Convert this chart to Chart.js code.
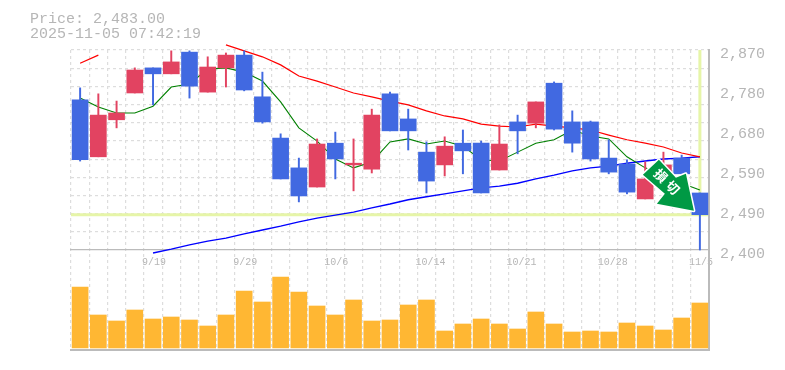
<!DOCTYPE html>
<html>
<head>
<meta charset="utf-8">
<style>html,body{margin:0;padding:0;background:#fff}canvas{display:block}</style>
<script src="https://cdn.jsdelivr.net/npm/chart.js@4/dist/chart.umd.min.js"></script>
</head>
<body>
<canvas id="c" width="785" height="370"></canvas>
<script>
const dates = ['','','','','9/19','','','','','9/29','','','','','10/6','','','','','10/14','','','','','10/21','','','','','10/28','','','','','11/5'];
const open  = [2753,2619,2706,2769,2828,2814,2865,2771,2828,2858,2760,2663,2593,2548,2651,2600,2590,2767,2708,2630,2600,2651,2651,2588,2701,2698,2792,2701,2701,2616,2602,2520,2565,2616,2534];
const high  = [2781,2767,2750,2828,2828,2868,2868,2854,2863,2868,2818,2673,2616,2661,2677,2661,2731,2771,2731,2654,2666,2682,2656,2694,2717,2748,2795,2727,2703,2659,2612,2607,2630,2623,2534];
const low   = [2609,2619,2687,2769,2741,2814,2757,2771,2783,2774,2698,2567,2513,2548,2567,2539,2581,2680,2635,2534,2574,2579,2534,2588,2626,2687,2682,2630,2609,2579,2532,2520,2565,2574,2400];
const close = [2612,2717,2722,2823,2814,2842,2785,2830,2858,2776,2701,2567,2527,2649,2614,2604,2717,2680,2680,2562,2644,2633,2534,2649,2680,2748,2684,2651,2614,2583,2536,2567,2600,2579,2483];
const maShort = [2757,2736,2722,2722,2738,2783,2790,2825,2828,2818,2797,2748,2687,2656,2614,2593,2607,2654,2661,2649,2656,2644,2612,2609,2630,2651,2659,2682,2668,2661,2619,2593,2576,2557,2541];
const maMid = [2839,2858,null,null,null,null,null,null,2882,2868,2854,2835,2809,2797,2783,2769,2760,2750,2741,2727,2715,2708,2696,2691,2689,2696,2691,2687,2682,2670,2659,2651,2642,2628,2619];
const maLong = [null,null,null,null,2393,2402,2412,2421,2428,2438,2447,2456,2466,2475,2482,2489,2499,2508,2518,2525,2532,2539,2546,2550,2557,2567,2576,2586,2593,2597,2604,2609,2614,2616,2619];
const volume = [61,33,27,38,29,31,28,22,33,57,46,71,56,42,33,48,27,28,43,48,17,24,29,24,19,36,24,16,17,16,25,22,18,30,45];
const priceTicks = [2400,2494,2588,2682,2776,2870];
const priceTickLabels = ['2,400','2,490','2,590','2,680','2,780','2,870'];
const gridTicks = [2870,2827.3,2784.5,2741.8,2699.1,2656.4,2613.6,2570.9,2528.2,2485.5,2442.7];
const headerLines = ['Price: 2,483.00','2025-11-05 07:42:19'];
const lastPrice = 2483;
const signalLabel = '損切';

const BLUE = '#4169E1', RED = '#E24361', ORANGE = '#FFB733', LIME = '#E6F5A8', GREY = '#BBBBBB';
const MONO = '"Liberation Mono", monospace';

const overlayLines = {
  id: 'overlayLines',
  beforeDatasetsDraw(chart) {
    const {ctx, chartArea, scales} = chart;
    const py = scales.y.getPixelForValue(lastPrice);
    const px = scales.x.getPixelForValue(dates.length - 1);
    ctx.save();
    ctx.strokeStyle = LIME;
    ctx.lineWidth = 3;
    ctx.beginPath();
    ctx.moveTo(chartArea.left, py);
    ctx.lineTo(chartArea.right - 1, py);
    ctx.moveTo(px, chartArea.top);
    ctx.lineTo(px, py);
    ctx.stroke();
    ctx.restore();
  }
};

const annotations = {
  id: 'annotations',
  afterDatasetsDraw(chart) {
    const {ctx, scales} = chart;
    ctx.save();
    ctx.fillStyle = '#B6B6B6';
    ctx.font = '15px ' + MONO;
    ctx.textAlign = 'left';
    ctx.textBaseline = 'alphabetic';
    ctx.fillText(headerLines[0], 30, 23);
    ctx.fillText(headerLines[1], 30, 38);
    ctx.restore();
    const ax = scales.x.getPixelForValue(dates.length - 1) - 6;
    const ay = scales.y.getPixelForValue(lastPrice) - 4;
    const shape = [[-35,-51],[-51,-36],[-29,-17],[-37,-7],[0,0],[-8,-37],[-18,-33]];
    ctx.save();
    ctx.translate(ax, ay);
    ctx.beginPath();
    shape.forEach((p, i) => i ? ctx.lineTo(p[0], p[1]) : ctx.moveTo(p[0], p[1]));
    ctx.closePath();
    ctx.lineJoin = 'round';
    ctx.lineWidth = 3;
    ctx.strokeStyle = '#FFFFFF';
    ctx.stroke();
    ctx.fillStyle = '#009944';
    ctx.fill();
    ctx.translate(-27, -29);
    ctx.rotate(Math.PI / 4);
    ctx.fillStyle = '#FFFFFF';
    ctx.font = 'bold 13px "Noto Sans CJK JP"';
    ctx.letterSpacing = '4px';
    ctx.textAlign = 'center';
    ctx.textBaseline = 'middle';
    ctx.fillText(signalLabel, 2, 0);
    ctx.restore();
  }
};

new Chart(document.getElementById('c'), {
  type: 'bar',
  data: {
    labels: dates,
    datasets: [
      {type:'line', data:maLong, borderColor:'#0000FF', borderWidth:1.4, pointRadius:0, clip:false, order:5, tension:0},
      {type:'line', data:maMid, borderColor:'#FF0000', borderWidth:1.2, pointRadius:0, clip:false, order:4, tension:0},
      {type:'line', data:maShort, borderColor:'#008000', borderWidth:1.1, pointRadius:0, clip:false, order:3, tension:0},
      {data:low.map((l,i)=>[l,high[i]]), backgroundColor:close.map((c,i)=>c<open[i]?BLUE:RED), barThickness:1.3, grouped:false, order:2, clip:false},
      {data:open.map((o,i)=>[o,close[i]]), backgroundColor:close.map((c,i)=>c<open[i]?BLUE:RED), barThickness:16, grouped:false, order:1, clip:false},
      {data:volume, yAxisID:'yVol', backgroundColor:ORANGE, barThickness:16, grouped:false, order:1}
    ]
  },
  options: {
    responsive:false,
    animation:false,
    layout:{padding:{left:71,top:50,bottom:20,right:0}},
    plugins:{legend:{display:false},tooltip:{enabled:false},title:{display:false}},
    scales:{
      x:{
        position:{y:2400},
        offset:true,
        grid:{offset:true,color:'#DDDDDD',lineWidth:1.2,drawTicks:false},
        border:{dash:[3,3],color:GREY,width:1.3,display:true},
        ticks:{autoSkip:false,maxRotation:0,minRotation:0,align:'start',labelOffset:-11,padding:6,color:'#B6B6B6',font:{family:MONO,size:10},callback(v,i){return dates[i];}},
        afterFit(s){s.height=0;}
      },
      xBase:{
        axis:'x',type:'category',position:'bottom',offset:true,
        grid:{display:false},
        border:{color:GREY,width:2},
        ticks:{display:false},
        afterFit(s){s.height=0;}
      },
      y:{
        position:'right',min:2165,max:2870,
        grid:{display:false},
        border:{color:GREY,width:2},
        ticks:{color:'#B6B6B6',padding:3,labelOffset:4,font:{family:MONO,size:15},align:'center',crossAlign:'near',callback(v){const i=priceTicks.indexOf(v);return i<0?'':priceTickLabels[i];}},
        afterBuildTicks(s){s.ticks=priceTicks.map(v=>({value:v}));},
        afterFit(s){s.width=76;}
      },
      yGrid:{
        position:'left',min:2165,max:2870,
        grid:{color:'#DDDDDD',lineWidth:1.2,drawTicks:false},
        border:{display:false,dash:[3,3]},
        ticks:{display:false},
        afterBuildTicks(s){s.ticks=gridTicks.map(v=>({value:v}));},
        afterFit(s){s.width=0;}
      },
      yVol:{
        display:false,position:'right',min:-2,max:298
      }
    }
  },
  plugins:[overlayLines,annotations]
});
</script>
</body>
</html>
